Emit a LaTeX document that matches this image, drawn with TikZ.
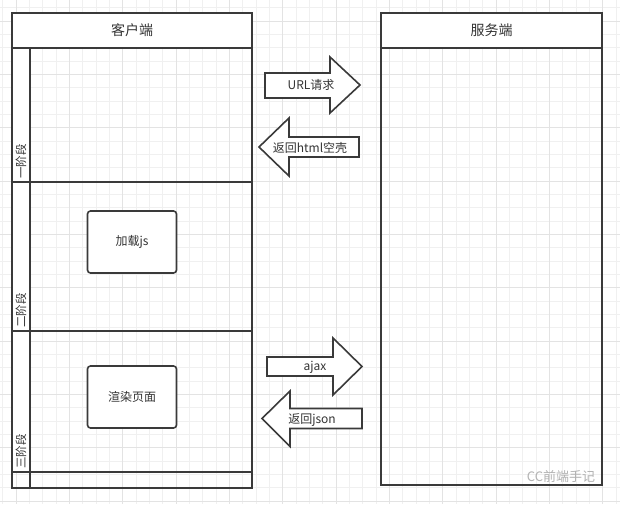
\documentclass[tikz,border=0pt]{standalone}
\usepackage{fontspec}
\setmainfont{Noto Sans CJK SC}
\definecolor{edge}{HTML}{3A3A3A}
\definecolor{ink}{HTML}{333333}

\begin{document}
\begin{tikzpicture}[x=1pt,y=-1pt,
		lane/.style={draw=edge, line width=1.6pt},
		head/.style={draw=edge, line width=1.6pt, fill=white},
		task/.style={draw=edge, line width=1.6pt, fill=white, rounded corners=3pt,
			minimum width=89pt, minimum height=62pt, text=ink, font=\fontsize{12}{14}\selectfont},
		bigarrow/.style={draw=edge, line width=1.6pt, fill=white, line join=miter},
		label/.style={text=ink, inner sep=0pt, font=\fontsize{12}{14}\selectfont},
		stage/.style={text=ink, inner sep=0pt, rotate=90, anchor=west, font=\fontsize{11.5}{13}\selectfont}]
	\useasboundingbox (0,0) rectangle (620,504);
	\fill[white] (0,0) rectangle (620,504);
	
	% grid
	\foreach \k in {0,...,46}
		\draw[gray!12, line width=0.6pt] ({2.67+13.333*\k},0) -- ++(0,504);
	\foreach \k in {0,...,37}
		\draw[gray!12, line width=0.6pt] (0,{7.7+13.333*\k}) -- ++(620,0);
	\foreach \k in {1,5,...,45}
		\draw[gray!22, line width=0.7pt] ({2.67+13.333*\k},0) -- ++(0,504);
	\foreach \k in {1,5,...,37}
		\draw[gray!22, line width=0.7pt] (0,{7.7+13.333*\k}) -- ++(620,0);
	
	% client lane
	\filldraw[head] (12,13) rectangle (252,48);
	\filldraw[head] (12,48) rectangle (30,472);
	\draw[lane] (12,13) rectangle (252,488);
	\draw[lane] (30,48) -- (30,488);
	\draw[lane] (12,182) -- (252,182);
	\draw[lane] (12,331) -- (252,331);
	\draw[lane] (12,472) -- (252,472);
	\node[text=ink, font=\fontsize{14}{16}\selectfont] (client) at (132,30.5) {客户端};
	
	\node[stage] (s1) at (21,179) {一阶段};
	\node[stage] (s2) at (21,328) {二阶段};
	\node[stage] (s3) at (21,469) {三阶段};
	
	\node[task] (loadjs) at (132,242) {加载js};
	\node[task] (render) at (132,397) {渲染页面};
	
	% server lane
	\filldraw[head] (381,13) rectangle (602,48);
	\draw[lane] (381,13) rectangle (602,485);
	\node[text=ink, font=\fontsize{14}{16}\selectfont] (server) at (491.5,30.5) {服务端};
	
	% arrows
	\filldraw[bigarrow] (265,73) -- (330,73) -- (330,57) -- (360,85) -- (330,113) -- (330,98) -- (265,98) -- cycle;
	\node[label] (url) at (311,85) {URL请求};
	
	\filldraw[bigarrow] (359,137) -- (289,137) -- (289,118) -- (259,147) -- (289,176) -- (289,157) -- (359,157) -- cycle;
	\node[label] (html) at (310,148) {返回html空壳};
	
	\filldraw[bigarrow] (267,357) -- (333,357) -- (333,338) -- (362,366.5) -- (333,395) -- (333,376) -- (267,376) -- cycle;
	\node[label] (ajax) at (315,367) {ajax};
	
	\filldraw[bigarrow] (362,408.5) -- (290,408.5) -- (290,391) -- (262,418.5) -- (290,446.5) -- (290,428.5) -- (362,428.5) -- cycle;
	\node[label] (json) at (312,419.5) {返回json};
	
	\node[text=gray!60, font=\fontsize{13}{15}\selectfont] (mark) at (561,477) {CC前端手记};
\end{tikzpicture}
\end{document}
